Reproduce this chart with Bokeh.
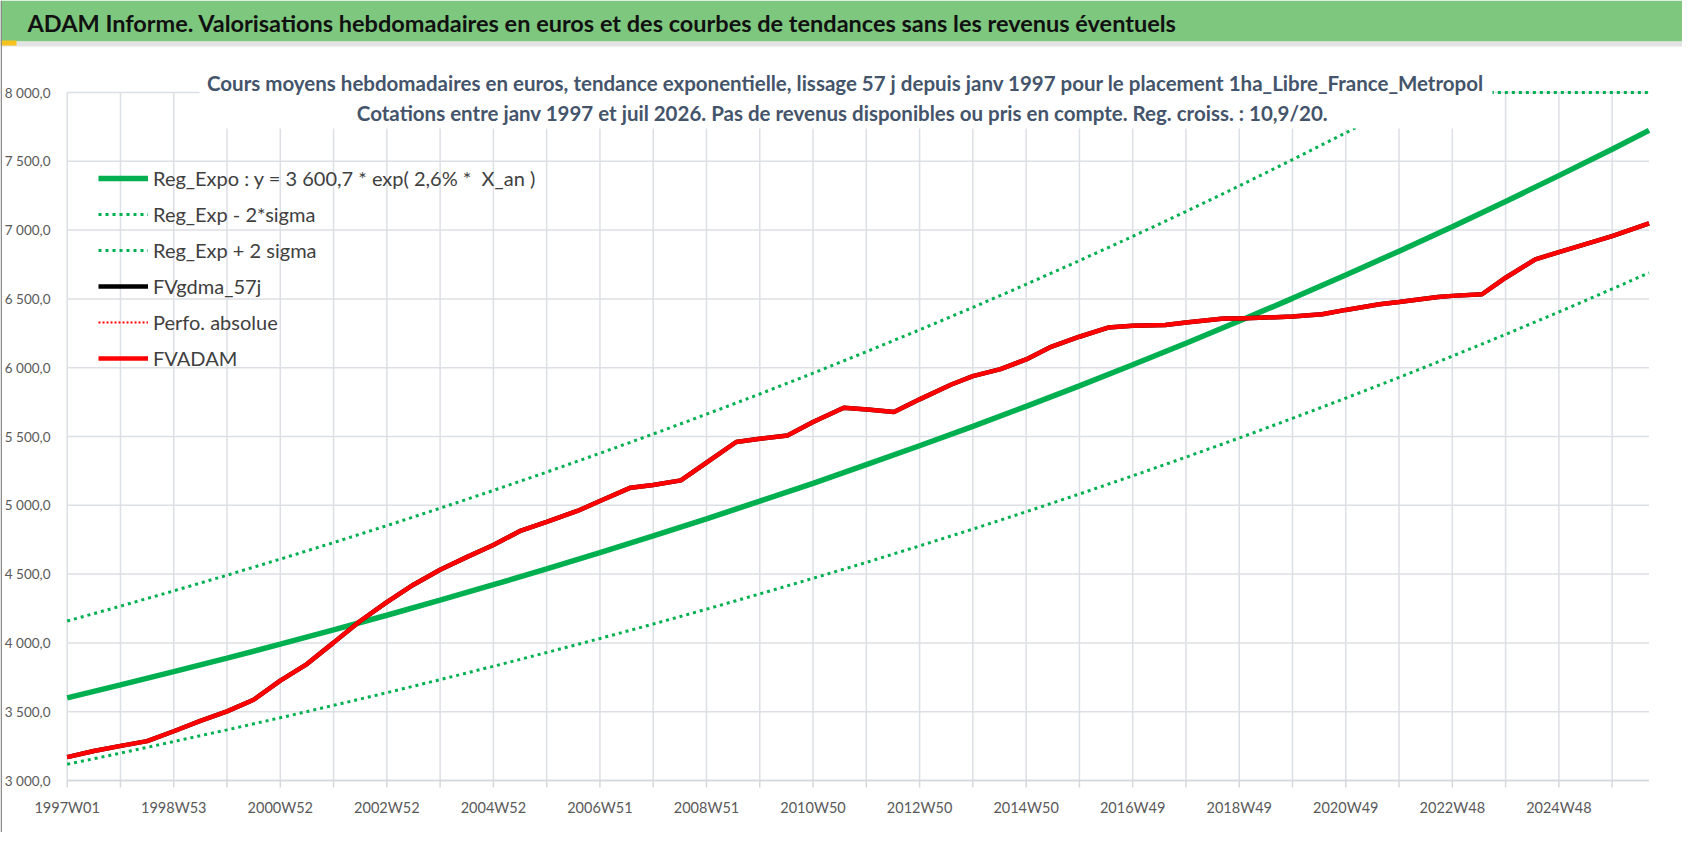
# -*- coding: utf-8 -*-
"""
ADAM Informe - valorisations hebdomadaires 1ha_Libre_France_Metropol
courbe lissee + tendance exponentielle +/- 2 sigma
one single frame covering the whole picture, grid and tick labels drawn from the tick lists
"""

from bokeh.plotting import figure
from bokeh.models import Range1d, Label, BoxAnnotation, Legend, LegendItem
from bokeh.core.properties import value
from bokeh.embed import file_html
from bokeh.resources import INLINE


## ----- CONSTANTS ----- ##
FONT        = "Lato"
GREEN       = '#00B050'
RED         = '#FF0000'
BAR_GREEN   = '#7EC77E'
GRID        = '#DCDFE4'
AXIS_GREY   = '#D4D7DC'
TICK_TXT    = '#595959'

W, H = 1682, 832

# page pixel -> data (plot area: week 0 at x=66.7, 1.0245 px per week ; 3000 at y=780, 8000 at y=92)
def px(x_page):
    return (x_page - 66.7) / 1.0245

def py(y_page):
    return 3000 + (780 - y_page) / 0.1376


## ----- DATA ----- ##
# x = week index, 0 = 1997W01 ; one label every 104 weeks
week_labels = ["1997W01", "1998W53", "2000W52", "2002W52", "2004W52", "2006W51", "2008W51",
               "2010W50", "2012W50", "2014W50", "2016W49", "2018W49", "2020W49", "2022W48",
               "2024W48"]
last_week = 1544   # juil 2026

y_ticks  = [3000, 3500, 4000, 4500, 5000, 5500, 6000, 6500, 7000, 7500, 8000]
y_labels = ["3 000,0", "3 500,0", "4 000,0", "4 500,0", "5 000,0", "5 500,0",
            "6 000,0", "6 500,0", "7 000,0", "7 500,0", "8 000,0"]

# trend curves, read once a year
trend_idx = [0, 52, 104, 156, 208, 260, 312, 364, 416, 468, 520, 572, 624, 676, 728, 780,
             832, 884, 936, 988, 1040, 1092, 1144, 1196, 1248, 1300, 1352, 1404, 1456, 1508, 1544]
reg_expo  = [3601, 3695, 3791, 3889, 3991, 4095, 4201, 4311, 4423, 4538, 4656, 4777, 4902, 5030,
             5160, 5295, 5433, 5574, 5719, 5868, 6021, 6178, 6339, 6504, 6673, 6847, 7025, 7208,
             7396, 7588, 7725]
reg_minus = [3118, 3199, 3283, 3368, 3456, 3546, 3638, 3733, 3830, 3930, 4032, 4137, 4245, 4356,
             4469, 4585, 4705, 4827, 4953, 5082, 5214, 5350, 5489, 5632, 5779, 5929, 6084, 6242,
             6405, 6572, 6690]

# upper band runs flat along the 8 000 top once it gets there
plus_idx  = [0, 52, 104, 156, 208, 260, 312, 364, 416, 468, 520, 572, 624, 676, 728, 780,
             832, 884, 936, 988, 1040, 1092, 1144, 1196, 1248, 1300, 1323, 1352, 1404, 1456,
             1508, 1544]
reg_plus  = [4159, 4267, 4378, 4492, 4609, 4729, 4852, 4979, 5108, 5241, 5378, 5518, 5662, 5809,
             5960, 6116, 6275, 6438, 6606, 6778, 6954, 7135, 7321, 7512, 7707, 7908, 8000, 8000,
             8000, 8000, 8000, 8000]

# smoothed valuation (57 j)
fv_idx = [0, 26, 51, 78, 104, 130, 156, 182, 208, 234, 260, 286, 312, 338, 364, 391, 416,
          443, 468, 498, 520, 550, 572, 599, 624, 653, 676, 703, 728, 758, 781, 807, 832,
          863, 884, 911, 936, 959, 988, 1016, 1040, 1072, 1092, 1129, 1144, 1196, 1225,
          1248, 1281, 1300, 1338, 1352, 1381, 1404, 1433, 1456, 1508, 1544]
fvadam = [3170, 3214, 3250, 3286, 3358, 3433, 3502, 3587, 3726, 3846, 4002, 4159, 4296, 4423,
          4531, 4627, 4712, 4816, 4879, 4959, 5031, 5128, 5148, 5181, 5310, 5460, 5484, 5508,
          5605, 5709, 5697, 5678, 5770, 5878, 5939, 5990, 6060, 6147, 6225, 6292, 6304, 6311,
          6328, 6357, 6357, 6372, 6389, 6420, 6461, 6478, 6514, 6522, 6534, 6654, 6787, 6840,
          6956, 7048]
# both hidden under FVADAM in the picture
fvgdma_57j    = fvadam
perfo_absolue = fvadam

legend_names = ["Reg_Expo : y = 3 600,7 * exp( 2,6% *  X_an )", "Reg_Exp - 2*sigma",
                "Reg_Exp + 2 sigma", "FVgdma_57j", "Perfo. absolue", "FVADAM"]

TITLE = ("ADAM Informe. Valorisations hebdomadaires en euros et des courbes de tendances "
         "sans les revenus éventuels")
SUB1 = ("Cours moyens hebdomadaires en euros, tendance exponentielle, lissage 57 j depuis "
        "janv 1997 pour le placement 1ha_Libre_France_Metropol")
SUB2 = ("Cotations entre janv 1997 et juil 2026. Pas de revenus disponibles ou pris en compte. "
        "Reg. croiss. : 10,9/20.")


## ----- FIGURE ----- ##
p = figure(width=W, height=H, x_range=Range1d(px(0), px(W)), y_range=Range1d(py(H), py(0)),
           x_axis_type=None, y_axis_type=None, min_border=0,
           output_backend="svg", toolbar_location=None)
p.outline_line_color = None
p.background_fill_color = "white"
p.border_fill_color = "white"

# grid : one vertical line a year, labels every two years
x_ticks = list(range(0, last_week, 52))
x_lab_pos = list(range(0, last_week, 104))
p.segment(x0=x_ticks, y0=[y_ticks[0]] * len(x_ticks), x1=x_ticks, y1=[y_ticks[-1]] * len(x_ticks),
          line_color=GRID, line_width=1.5)
p.segment(x0=[0] * len(y_ticks), y0=y_ticks, x1=[last_week] * len(y_ticks), y1=y_ticks,
          line_color=GRID, line_width=1.5)
# bottom axis line and its tick marks
p.segment(x0=[0], y0=[y_ticks[0]], x1=[last_week], y1=[y_ticks[0]],
          line_color=AXIS_GREY, line_width=1.5)
p.segment(x0=x_ticks, y0=[y_ticks[0]] * len(x_ticks), x1=x_ticks,
          y1=[py(787)] * len(x_ticks), line_color=AXIS_GREY, line_width=1.5)

p.text(x=x_lab_pos, y=[py(807)] * len(x_lab_pos), text=week_labels,
       text_font=value(FONT), text_font_size="14.5px", text_color=TICK_TXT,
       text_align="center", text_baseline="middle")
p.text(x=[px(50)] * len(y_ticks), y=y_ticks, text=y_labels,
       text_font=value(FONT), text_font_size="13.5px", text_color=TICK_TXT,
       text_align="right", text_baseline="middle")

## ----- LINES ----- ##
r_reg   = p.line(trend_idx, reg_expo, line_color=GREEN, line_width=5.5)
r_minus = p.line(trend_idx, reg_minus, line_color=GREEN, line_width=3, line_dash="3 4")
r_plus  = p.line(plus_idx, reg_plus, line_color=GREEN, line_width=3, line_dash="3 4")
r_gdma  = p.line(fv_idx, fvgdma_57j, line_color="black", line_width=4.5)
r_perfo = p.line(fv_idx, perfo_absolue, line_color=RED, line_width=2, line_dash="2 2")
r_adam  = p.line(fv_idx, fvadam, line_color=RED, line_width=4.5)


## ----- BANNER AND TITLES ----- ##
def box(x0, x1, y0, y1, color):
    p.add_layout(BoxAnnotation(left=px(x0), right=px(x1), top=py(y0), bottom=py(y1),
                               fill_color=color, fill_alpha=1, line_color=None))

box(0, W, 0, 41, BAR_GREEN)
box(0, W, 41, 46, "#E3E3E3")
box(0, 16, 40, 45, "#F6C21B")
box(0, 1.5, 0, H, "#8C8C8C")
# white area behind the chart title (hides the grid under it)
box(199, 1492, 60, 128, "white")

p.add_layout(Label(x=px(27), y=py(22), text=TITLE, text_font=FONT, text_font_size="23.5px",
                   text_font_style="bold", text_color="#111111",
                   text_align="left", text_baseline="middle"))
p.add_layout(Label(x=px(845), y=py(82), text=SUB1, text_font=FONT, text_font_size="20.5px",
                   text_font_style="bold", text_color="#44546A",
                   text_align="center", text_baseline="middle"))
p.add_layout(Label(x=px(842), y=py(112), text=SUB2, text_font=FONT, text_font_size="20.5px",
                   text_font_style="bold", text_color="#44546A",
                   text_align="center", text_baseline="middle"))


## ----- LEGEND ----- ##
items = [LegendItem(label=n, renderers=[r]) for n, r in
         zip(legend_names, [r_reg, r_minus, r_plus, r_gdma, r_perfo, r_adam])]
legend = Legend(items=items, location=(98, H - 160 - 216), orientation="vertical",
                glyph_width=50, glyph_height=36, label_height=36, spacing=0,
                padding=0, margin=0, label_standoff=5,
                label_text_font=FONT, label_text_font_size="20px", label_text_color="#404040",
                background_fill_alpha=0, border_line_color=None)
p.add_layout(legend)


open("out.html", "w").write(file_html(p, INLINE))
